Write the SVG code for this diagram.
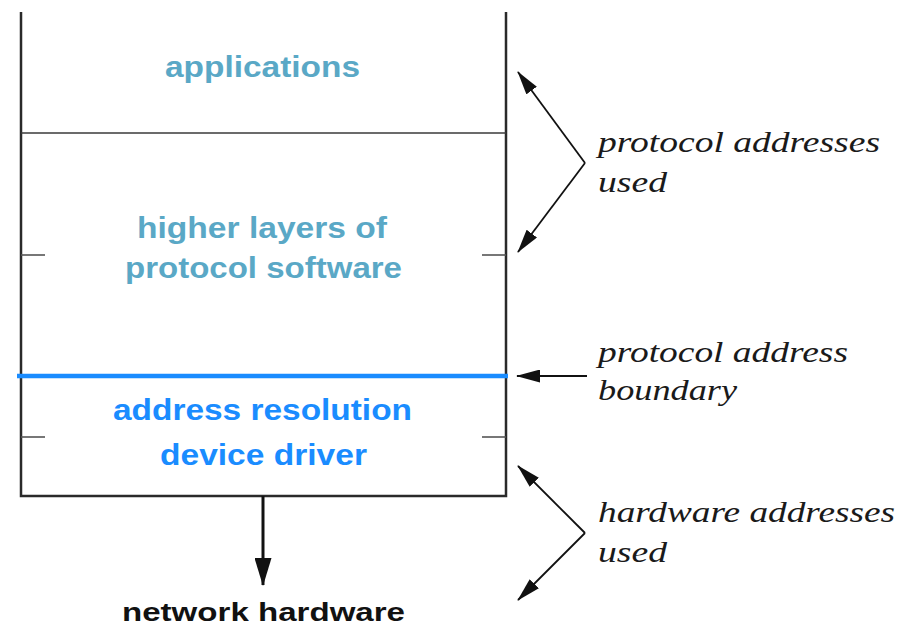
<svg xmlns="http://www.w3.org/2000/svg" width="919" height="627" viewBox="0 0 919 627">
<style>
.frame{stroke:#2a2a2a;stroke-width:2.5;fill:none}
.thin{stroke:#3a3a3a;stroke-width:1.6;fill:none}
.tick{stroke:#555;stroke-width:1.6;fill:none}
.bound{stroke:#1a8cff;stroke-width:4.5;fill:none}
.conn{stroke:#111;stroke-width:1.8;fill:none}
.layer{font-family:"Liberation Sans",Arial,sans-serif;font-weight:bold;font-size:29px}
.teal{fill:#5aa8c6}
.blue{fill:#1a8cff}
.note{font-family:"Liberation Serif","Times New Roman",serif;font-style:italic;font-size:30px;fill:#1a1a1a}
.hw{font-family:"Liberation Sans",Arial,sans-serif;font-weight:bold;font-size:25px;fill:#111}
</style>
<defs>
<marker id="ah" markerUnits="userSpaceOnUse" viewBox="0 0 24 13" markerWidth="24" markerHeight="13" refX="23" refY="6.5" orient="auto">
<path d="M0,0 L24,6.5 L0,13 Z" fill="#111"/>
</marker>
<marker id="ahBig" markerUnits="userSpaceOnUse" viewBox="0 0 28 17" markerWidth="28" markerHeight="17" refX="27" refY="8.5" orient="auto">
<path d="M0,0 L28,8.5 L0,17 Z" fill="#111"/>
</marker>
</defs>
<rect width="919" height="627" fill="#fff"/>
<g id="stack">
<path class="frame" d="M21,12 V496 H506 V12"/>
<line class="thin" x1="21" y1="133" x2="506" y2="133"/>
<line class="tick" x1="21" y1="255" x2="45" y2="255"/>
<line class="tick" x1="482" y1="255" x2="506" y2="255"/>
<line class="tick" x1="21" y1="437" x2="45" y2="437"/>
<line class="tick" x1="482" y1="437" x2="506" y2="437"/>
<line class="bound" x1="17" y1="376" x2="508" y2="376"/>
</g>
<g id="layer-applications">
<text class="layer teal" x="165" y="77" textLength="195" lengthAdjust="spacingAndGlyphs">applications</text>
</g>
<g id="layer-higher">
<text class="layer teal" x="137" y="238" textLength="250" lengthAdjust="spacingAndGlyphs">higher layers of</text>
<text class="layer teal" x="125" y="278" textLength="277" lengthAdjust="spacingAndGlyphs">protocol software</text>
</g>
<g id="layer-resolution">
<text class="layer blue" x="113" y="420" textLength="299" lengthAdjust="spacingAndGlyphs">address resolution</text>
<text class="layer blue" x="160" y="465" textLength="207" lengthAdjust="spacingAndGlyphs">device driver</text>
</g>
<g id="network-hardware">
<text class="hw" x="122" y="621" textLength="283" lengthAdjust="spacingAndGlyphs">network hardware</text>
</g>
<g id="note-protocol">
<text class="note" x="598" y="152" textLength="282" lengthAdjust="spacingAndGlyphs">protocol addresses</text>
<text class="note" x="598" y="192" textLength="69" lengthAdjust="spacingAndGlyphs">used</text>
</g>
<g id="note-boundary">
<text class="note" x="598" y="362" textLength="250" lengthAdjust="spacingAndGlyphs">protocol address</text>
<text class="note" x="598" y="400" textLength="139" lengthAdjust="spacingAndGlyphs">boundary</text>
</g>
<g id="note-hardware">
<text class="note" x="598" y="522" textLength="297" lengthAdjust="spacingAndGlyphs">hardware addresses</text>
<text class="note" x="598" y="562" textLength="69" lengthAdjust="spacingAndGlyphs">used</text>
</g>
<g id="connectors">
<line class="conn" x1="585" y1="163" x2="518" y2="72" marker-end="url(#ah)"/>
<line class="conn" x1="585" y1="163" x2="518" y2="252" marker-end="url(#ah)"/>
<line class="conn" x1="587" y1="376" x2="517" y2="376" marker-end="url(#ah)"/>
<line class="conn" x1="585" y1="533" x2="518" y2="466" marker-end="url(#ah)"/>
<line class="conn" x1="585" y1="533" x2="518" y2="600" marker-end="url(#ah)"/>
<line class="conn" style="stroke-width:3" x1="263" y1="496" x2="263" y2="585" marker-end="url(#ahBig)"/>
</g>
</svg>
